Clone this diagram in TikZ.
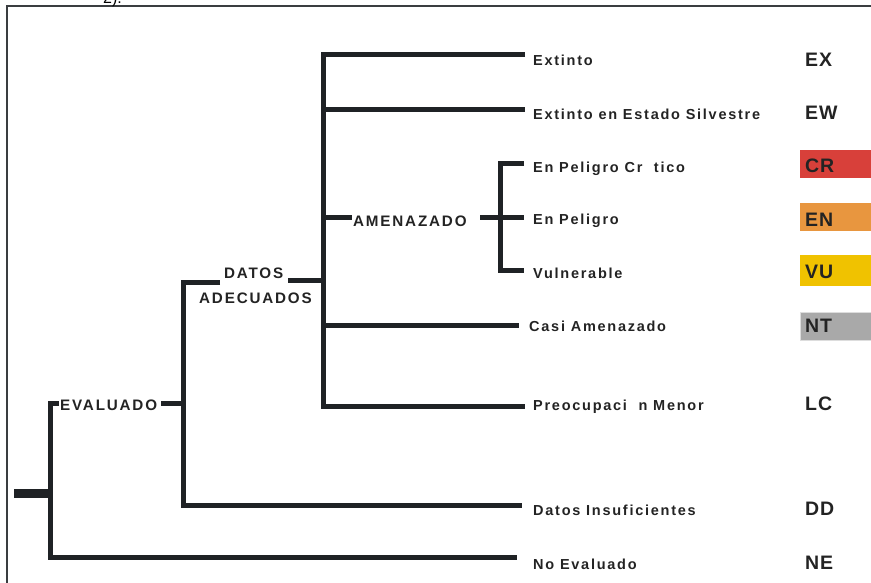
\documentclass[tikz,border=0pt]{standalone}
\usepackage{fontspec}
\setmainfont{Liberation Sans}
\newfontfamily\lblfont{Liberation Sans}[LetterSpace=12]
\newfontfamily\grpfont{Liberation Sans}[LetterSpace=12]
\newfontfamily\codefont{Liberation Sans}[LetterSpace=5]
\definecolor{ink}{HTML}{1F2225}
\definecolor{txt}{HTML}{232323}
\definecolor{crred}{HTML}{D8403A}
\definecolor{enorg}{HTML}{E8963F}
\definecolor{vuyel}{HTML}{F0C200}
\definecolor{ntgry}{HTML}{A9A9A9}
\definecolor{framec}{HTML}{3A3D40}
\tikzset{
  br/.style={line width=5pt, draw=ink, line cap=butt, line join=miter},
  lbl/.style={anchor=base west, inner sep=0pt, text=txt, font=\lblfont\bfseries\fontsize{14.5}{16}\selectfont},
  grp/.style={anchor=base west, inner sep=0pt, text=txt, font=\grpfont\bfseries\fontsize{15.2}{17}\selectfont},
  code/.style={anchor=base west, inner sep=0pt, text=txt, font=\codefont\bfseries\fontsize{19.5}{22}\selectfont},
}
\begin{document}
\begin{tikzpicture}[x=1pt,y=-1pt]
\useasboundingbox (0,0) rectangle (871,583);
% frame
\draw[framec, line width=2pt] (7,583) -- (7,6) -- (871,6);
\node[anchor=base west, inner sep=0pt, font=\fontsize{16}{18}\selectfont] (frag) at (103,4) {2).};
% colour boxes
\fill[crred] (800,150) rectangle (871,178);
\fill[enorg] (800,203) rectangle (871,231);
\fill[vuyel] (800,255) rectangle (871,286);
\fill[ntgry, draw=ntgry!40!white, line width=0.8pt] (800.5,312.5) rectangle (872,340.5);
% leaf labels
\node[lbl] (ex) at (533,66) {Extinto};
\node[lbl] (ew) at (533,119.5) {Extinto en Estado Silvestre};
\node[lbl] (cr) at (533,173) {En Peligro Cr~~tico};
\node[lbl] (en) at (533,225) {En Peligro};
\node[lbl] (vu) at (533,278) {Vulnerable};
\node[lbl] (nt) at (529,331) {Casi Amenazado};
\node[lbl] (lc) at (533,410) {Preocupaci~~n Menor};
\node[lbl] (dd) at (533,515) {Datos Insuficientes};
\node[lbl] (ne) at (533,569) {No Evaluado};
% group labels
\node[grp] (evl) at (60,410) {EVALUADO};
\node[grp] (dat1) at (224,278) {DATOS};
\node[grp] (dat2) at (199,303) {ADECUADOS};
\node[grp] (amz) at (353,226) {AMENAZADO};
% codes
\node[code] (cEX) at (805,67) {EX};
\node[code] (cEW) at (805,120) {EW};
\node[code] (cCR) at (805,173) {CR};
\node[code] (cEN) at (805,226) {EN};
\node[code] (cVU) at (805,278) {VU};
\node[code] (cNT) at (805,332) {NT};
\node[code] (cLC) at (805,410) {LC};
\node[code] (cDD) at (805,515) {DD};
\node[code] (cNE) at (805,569) {NE};
% junction coordinates
\coordinate (r0) at (14,493);
\coordinate (r1) at (50,493);
\coordinate (e0) at (59,403);
\coordinate (e1) at (50,403);
\coordinate (e2) at (50,557);
\coordinate (neE) at (517,557);
\coordinate (evR) at (161,403);
\coordinate (d1) at (183,403);
\coordinate (d0) at (220,282);
\coordinate (dA) at (183,282);
\coordinate (dB) at (183,505);
\coordinate (ddE) at (522,505);
\coordinate (m0) at (288,280);
\coordinate (m1) at (323,280);
\coordinate (mT) at (323,55);
\coordinate (mB) at (323,406);
\coordinate (exE) at (525,55);
\coordinate (lcE) at (525,406);
\coordinate (mEW) at (323,110);
\coordinate (ewE) at (525,110);
\coordinate (mAM) at (323,218);
\coordinate (amL) at (352,218);
\coordinate (mNT) at (323,325);
\coordinate (ntE) at (519,325);
\coordinate (aR) at (480,218);
\coordinate (aT) at (500,164);
\coordinate (aB) at (500,270);
\coordinate (crE) at (524,164);
\coordinate (enE) at (524,218);
\coordinate (vuE) at (524,270);
% connectors
\draw[br, line width=9pt] (r0) -- (r1);
\draw[br] (e0) -- (e1) -- (e2) -- (neE);
\draw[br] (evR) -- (d1);
\draw[br] (d0) -- (dA) -- (dB) -- (ddE);
\draw[br] (m0) -- (m1);
\draw[br] (exE) -- (mT) -- (mB) -- (lcE);
\draw[br] (mEW) -- (ewE);
\draw[br] (mAM) -- (amL);
\draw[br] (mNT) -- (ntE);
\draw[br] (aR) -- (enE);
\draw[br] (crE) -- (aT) -- (aB) -- (vuE);
\end{tikzpicture}
\end{document}
